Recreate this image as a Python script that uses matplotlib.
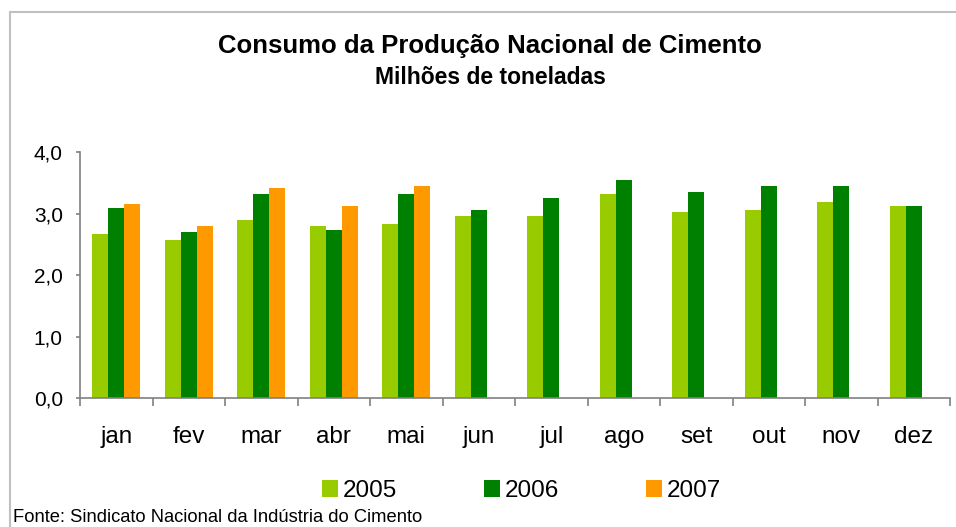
import numpy as np
import matplotlib
matplotlib.use("Agg")
import matplotlib.pyplot as plt
from matplotlib.patches import Rectangle

plt.rcParams['font.family'] = ['Liberation Sans', 'DejaVu Sans']

# data (milhoes de toneladas)
meses = ["jan", "fev", "mar", "abr", "mai", "jun", "jul", "ago", "set", "out", "nov", "dez"]
v2005 = [2.67, 2.57, 2.90, 2.80, 2.83, 2.96, 2.96, 3.32, 3.03, 3.06, 3.19, 3.12]
v2006 = [3.09, 2.70, 3.32, 2.73, 3.32, 3.06, 3.26, 3.55, 3.35, 3.45, 3.45, 3.12]
v2007 = [3.16, 2.80, 3.42, 3.12, 3.45]
anos = ["2005", "2006", "2007"]
cores = ["#99CC00", "#008000", "#FF9900"]

W, H = 956, 527
fig = plt.figure(figsize=(W / 100, H / 100), dpi=100)

# outer chart frame (only top and left edges show)
fig.patches.append(Rectangle((10 / W, -0.1), 1.2, 1.1 - 12 / H, transform=fig.transFigure,
                             fill=False, edgecolor="#c0c0c0", linewidth=1.5))

ax = fig.add_axes([80 / W, (H - 398) / H, 870 / W, (398 - 152.3) / H])

x = np.arange(len(meses))
w = 0.2207
series = [v2005, v2006, v2007]
handles = []
for i, (vals, cor) in enumerate(zip(series, cores)):
    xs = x[:len(vals)] + (i - 1) * w
    b = ax.bar(xs, vals, width=w, color=cor, linewidth=0)
    handles.append(b)

ax.set_xlim(-0.5, len(meses) - 0.5)
ax.set_ylim(0, 4)
ax.set_yticks([0, 1, 2, 3, 4])
ax.set_yticklabels(["0,0", "1,0", "2,0", "3,0", "4,0"], fontsize=15)
ax.tick_params(axis="y", direction="out", length=3, width=1.2, color="#808080", pad=9.4)

# category separators as major ticks, month names on minor ticks
ax.set_xticks(np.arange(-0.5, len(meses), 1.0))
ax.set_xticklabels([])
ax.set_xticks(x, minor=True)
ax.set_xticklabels(meses, minor=True, fontsize=17.5)
ax.tick_params(axis="x", which="major", direction="out", length=6, width=1.2, color="#808080")
ax.tick_params(axis="x", which="minor", length=0, pad=20)

for s in ["top", "right"]:
    ax.spines[s].set_visible(False)
for s in ["left", "bottom"]:
    ax.spines[s].set_color("#808080")
    ax.spines[s].set_linewidth(1.2)

fig.text(490 / W, 1 - 53 / H, "Consumo da Produção Nacional de Cimento",
         ha="center", va="baseline", fontsize=18.5, fontweight="bold")
fig.text(490 / W, 1 - 84.3 / H, "Milhões de toneladas",
         ha="center", va="baseline", fontsize=16.5, fontweight="bold")

fig.legend(handles, anos, loc="center left", bbox_to_anchor=(322 / W, 1 - 491 / H),
           ncol=3, frameon=False, fontsize=17.5, handlelength=0.66, handleheight=0.66,
           handletextpad=0.2, columnspacing=3.57, borderpad=0, borderaxespad=0)

fig.text(13 / W, (H - 522) / H, "Fonte: Sindicato Nacional da Indústria do Cimento",
         ha="left", va="baseline", fontsize=13.2)

fig.savefig("out.png", dpi=100)
